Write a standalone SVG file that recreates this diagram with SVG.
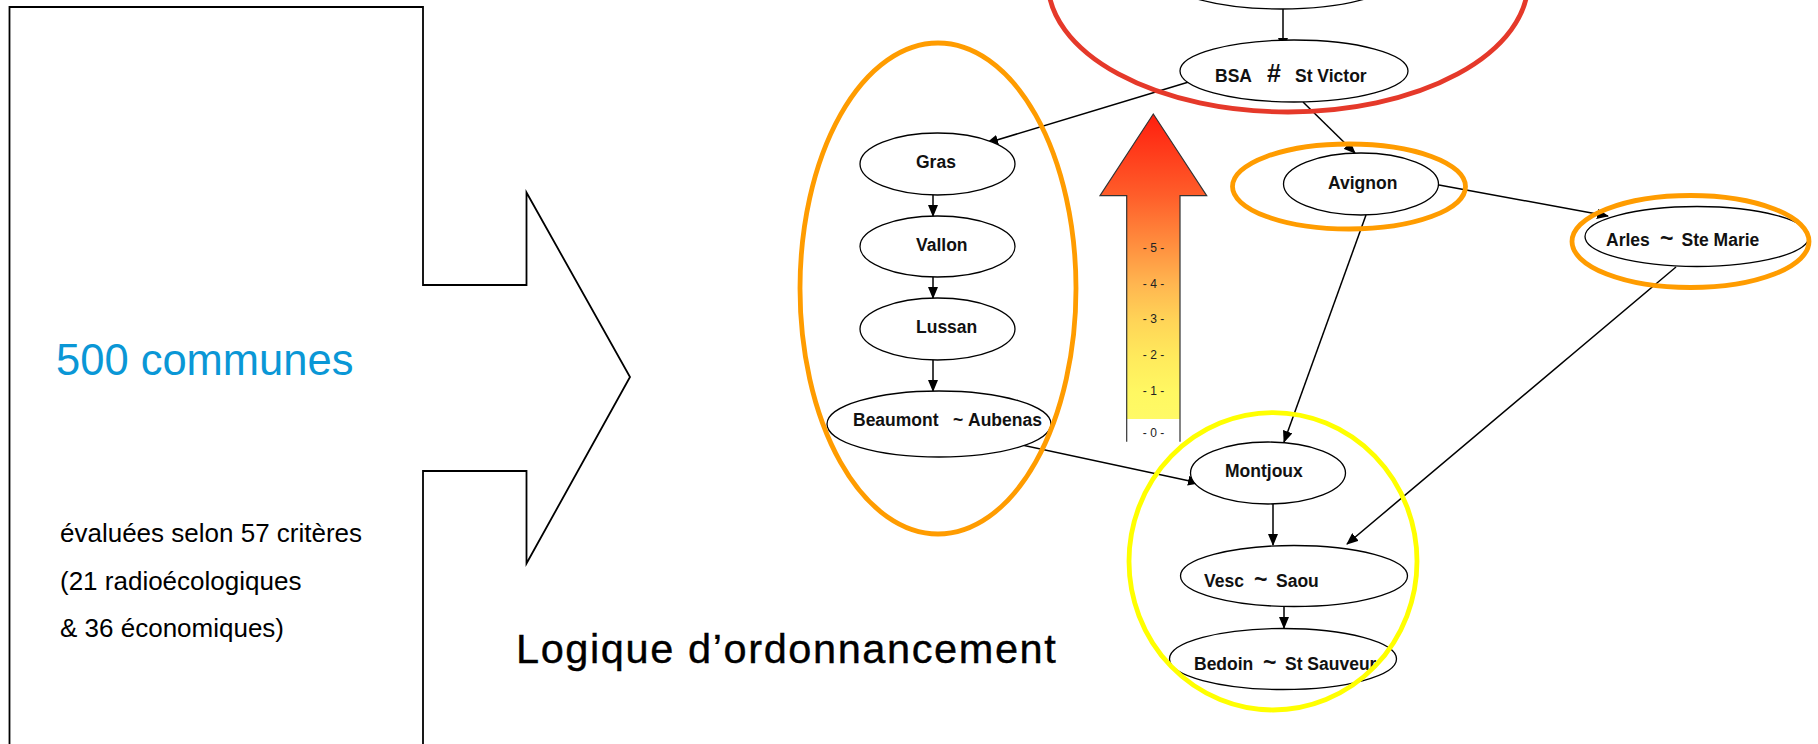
<svg xmlns="http://www.w3.org/2000/svg" width="1818" height="744" viewBox="0 0 1818 744">
<style>
.node{fill:#fff;stroke:#000;stroke-width:1.3}
.lbl{font-family:"Liberation Sans",Arial,sans-serif;font-weight:bold;font-size:17.5px;fill:#111}
.big{font-size:23px}
.edge{stroke:#000;stroke-width:1.5;fill:none;marker-end:url(#ah)}
.ring{fill:none;stroke-width:4.8}
.scale{font-family:"Liberation Sans",Arial,sans-serif;font-size:12px;fill:#222;text-anchor:middle}
.side{font-family:"Liberation Sans",Arial,sans-serif;font-size:26px;fill:#000}
</style>
<defs>
<marker id="ah" markerWidth="12" markerHeight="10" refX="11" refY="5" orient="auto" markerUnits="userSpaceOnUse">
<path d="M0,0 L12,5 L0,10 z" fill="#000"/>
</marker>
<linearGradient id="grad" gradientUnits="userSpaceOnUse" x1="0" y1="114" x2="0" y2="442">
<stop offset="0" stop-color="#FF1E0E"/>
<stop offset="0.25" stop-color="#FF5E2A"/>
<stop offset="0.41" stop-color="#FF9240"/>
<stop offset="0.52" stop-color="#FFB650"/>
<stop offset="0.63" stop-color="#FFD457"/>
<stop offset="0.74" stop-color="#FFEA5C"/>
<stop offset="0.85" stop-color="#FFF862"/>
<stop offset="0.93" stop-color="#FFFA66"/>
<stop offset="0.93" stop-color="#FFFFFF"/>
<stop offset="1" stop-color="#FFFFFF"/>
</linearGradient>
</defs>
<rect width="1818" height="744" fill="#fff"/>

<g id="input-arrow">
<path d="M9.5,750 V7 H423 V285 H526.5 V192.5 L630,377 L526.5,563.5 V471 H423 V750" fill="#fff" stroke="#000" stroke-width="1.8"/>
<text x="56" y="375" font-family="'Liberation Sans',Arial,sans-serif" font-size="43.5" fill="#0A97D6">500 communes</text>
<text class="side" x="60" y="542">évaluées selon 57 critères</text>
<text class="side" x="60" y="589.5">(21 radioécologiques</text>
<text class="side" x="60" y="637">&amp; 36 économiques)</text>
</g>

<g id="title">
<text x="516" y="663" font-family="'Liberation Sans',Arial,sans-serif" font-size="41.5" letter-spacing="1.6" fill="#000" stroke="#000" stroke-width="0.4">Logique d’ordonnancement</text>
</g>

<g id="scale-arrow">
<polygon points="1153.3,114 1206.7,195.7 1180,195.7 1180,441.7 1126.7,441.7 1126.7,195.7 1100,195.7" fill="url(#grad)"/>
<path d="M1126.7,441.7 V195.7 H1100 L1153.3,114 L1206.7,195.7 H1180 V441.7" fill="none" stroke="#333" stroke-width="1.2"/>
<text class="scale" x="1153.5" y="251.5">- 5 -</text>
<text class="scale" x="1153.5" y="287.5">- 4 -</text>
<text class="scale" x="1153.5" y="323">- 3 -</text>
<text class="scale" x="1153.5" y="359">- 2 -</text>
<text class="scale" x="1153.5" y="394.5">- 1 -</text>
<text class="scale" x="1153.5" y="437">- 0 -</text>
</g>

<g id="connectors">
<line class="edge" x1="1283" y1="9" x2="1283" y2="49"/>
<line class="edge" x1="1192" y1="81" x2="987" y2="143"/>
<line class="edge" x1="1303" y1="102" x2="1355" y2="153"/>
<line class="edge" x1="933" y1="195" x2="933" y2="216"/>
<line class="edge" x1="933" y1="277" x2="933" y2="298"/>
<line class="edge" x1="933" y1="360" x2="933" y2="391"/>
<line class="edge" x1="1439" y1="185" x2="1608" y2="216"/>
<line class="edge" x1="1366" y1="215" x2="1284" y2="442"/>
<line class="edge" x1="1676" y1="267" x2="1347" y2="544"/>
<line class="edge" x1="1003" y1="441" x2="1199" y2="483"/>
<line class="edge" x1="1273" y1="504" x2="1273" y2="545"/>
<line class="edge" x1="1284" y1="607" x2="1284" y2="628"/>
</g>

<g id="node-top"><ellipse class="node" cx="1281" cy="-22" rx="114" ry="31"/></g>
<g id="node-bsa">
<ellipse class="node" cx="1294" cy="71" rx="114" ry="31"/>
<text class="lbl" y="81.5"><tspan x="1215">BSA</tspan><tspan x="1267" font-size="25">#</tspan><tspan x="1295">St Victor</tspan></text>
</g>
<g id="node-gras"><ellipse class="node" cx="937.5" cy="164" rx="77.5" ry="31"/><text class="lbl" x="916" y="168">Gras</text></g>
<g id="node-vallon"><ellipse class="node" cx="937.5" cy="246.5" rx="77.5" ry="30.5"/><text class="lbl" x="916" y="250.5">Vallon</text></g>
<g id="node-lussan"><ellipse class="node" cx="937.5" cy="329" rx="77.5" ry="31"/><text class="lbl" x="916" y="333">Lussan</text></g>
<g id="node-beaumont"><ellipse class="node" cx="939" cy="424" rx="112" ry="33"/>
<text class="lbl" y="426"><tspan x="853">Beaumont</tspan><tspan x="953">~</tspan><tspan x="968">Aubenas</tspan></text></g>
<g id="node-avignon"><ellipse class="node" cx="1361" cy="184" rx="77.5" ry="31"/><text class="lbl" x="1328" y="188.5">Avignon</text></g>
<g id="node-arles"><ellipse class="node" cx="1697" cy="236.5" rx="112" ry="30"/>
<text class="lbl" y="246"><tspan x="1606">Arles</tspan><tspan x="1660" class="big">~</tspan><tspan x="1681.5">Ste Marie</tspan></text></g>
<g id="node-montjoux"><ellipse class="node" cx="1268" cy="473" rx="77.5" ry="31"/><text class="lbl" x="1225" y="477">Montjoux</text></g>
<g id="node-vesc"><ellipse class="node" cx="1294" cy="576" rx="113.5" ry="30.5"/>
<text class="lbl" y="587"><tspan x="1204">Vesc</tspan><tspan x="1254" class="big">~</tspan><tspan x="1276">Saou</tspan></text></g>
<g id="node-bedoin"><ellipse class="node" cx="1283" cy="659" rx="113.5" ry="30.5"/>
<text class="lbl" y="669.5"><tspan x="1194">Bedoin</tspan><tspan x="1263" class="big">~</tspan><tspan x="1285">St Sauveur</tspan></text></g>

<g id="groups">
<ellipse class="ring" cx="1288" cy="-18" rx="240" ry="130" stroke="#E5392A"/>
<ellipse class="ring" cx="938" cy="288.5" rx="138" ry="245.5" stroke="#FF9C00"/>
<ellipse class="ring" cx="1349" cy="186.5" rx="116.5" ry="42.5" stroke="#FF9C00"/>
<ellipse class="ring" cx="1690.5" cy="241.5" rx="118.5" ry="46" stroke="#FF9C00"/>
<ellipse class="ring" cx="1273" cy="561.3" rx="144" ry="148.7" stroke="#FFFF00"/>
</g>
</svg>
